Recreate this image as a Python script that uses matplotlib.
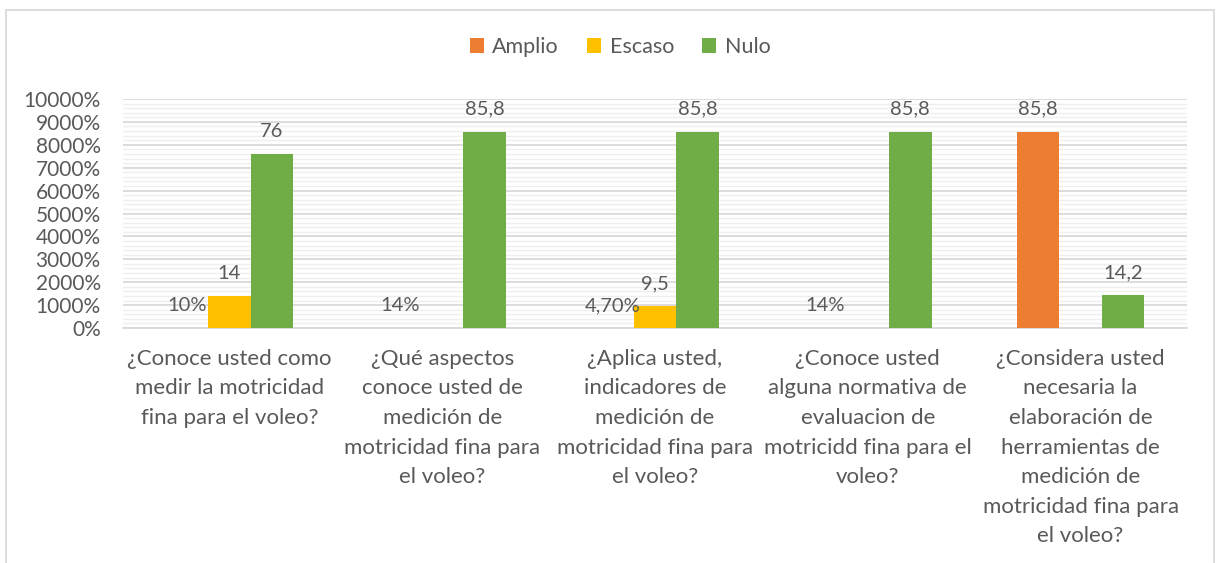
import numpy as np
import matplotlib
matplotlib.use("Agg")
import matplotlib.pyplot as plt
from matplotlib.patches import Patch, Rectangle
from matplotlib.ticker import MultipleLocator, FuncFormatter

plt.rcParams['font.family'] = ['Lato', 'DejaVu Sans']

categories = [
    "¿Conoce usted como\nmedir la motricidad\nfina para el voleo?",
    "¿Qué aspectos\nconoce usted de\nmedición de\nmotricidad fina para\nel voleo?",
    "¿Aplica usted,\nindicadores de\nmedición de\nmotricidad fina para\nel voleo?",
    "¿Conoce usted\nalguna normativa de\nevaluacion de\nmotricidd fina para el\nvoleo?",
    "¿Considera usted\nnecesaria la\nelaboración de\nherramientas de\nmedición de\nmotricidad fina para\nel voleo?",
]
series_names = ["Amplio", "Escaso", "Nulo"]
amplio = [0.10, 0.14, 0.047, 0.14, 85.8]
escaso = [14, np.nan, 9.5, np.nan, np.nan]
nulo = [76, 85.8, 85.8, 85.8, 14.2]
amplio_labels = ["10%", "14%", "4,70%", "14%", "85,8"]
escaso_labels = ["14", "", "9,5", "", ""]
nulo_labels = ["76", "85,8", "85,8", "85,8", "14,2"]

colors = ["#ED7D31", "#FFC000", "#70AD47"]
text_color = "#595959"

fig = plt.figure(figsize=(12.16, 5.63), dpi=100)
W, H = 1216, 563
ax = fig.add_axes([123 / W, 1 - 328 / H, (1187 - 123) / W, (328 - 99) / H])

x = np.arange(len(categories))
bw = 0.2
all_vals = [amplio, escaso, nulo]
all_labels = [amplio_labels, escaso_labels, nulo_labels]
for i, (vals, labs, c) in enumerate(zip(all_vals, all_labels, colors)):
    pos = x + (i - 1) * bw
    v = np.array(vals, dtype=float)
    ax.bar(pos, np.nan_to_num(v), width=bw, color=c, zorder=3)
    for p, val, lab in zip(pos, v, labs):
        if lab and not np.isnan(val):
            ax.annotate(lab, (p, val), xytext=(0, 12), textcoords="offset points",
                        ha="center", va="baseline", fontsize=14.5, color=text_color, zorder=4)

ax.set_xlim(-0.5, len(categories) - 0.5)
ax.set_ylim(0, 100)
ax.yaxis.set_major_locator(MultipleLocator(10))
ax.yaxis.set_minor_locator(MultipleLocator(2))
ax.yaxis.set_major_formatter(FuncFormatter(lambda v, _: f"{int(round(v * 100))}%"))
ax.grid(axis="y", which="major", color="#D9D9D9", linewidth=1.3, zorder=0)
ax.grid(axis="y", which="minor", color="#EFEFEF", linewidth=1.0, zorder=0)
ax.set_axisbelow(True)
for s in ["top", "right", "left"]:
    ax.spines[s].set_visible(False)
ax.spines["bottom"].set_color("#D9D9D9")
ax.spines["bottom"].set_linewidth(1.3)
ax.set_xticks(x)
ax.set_xticklabels(categories, fontsize=16, color=text_color, linespacing=1.6, va="top")
ax.tick_params(axis="x", length=0, pad=15)
ax.tick_params(axis="y", which="both", length=0, pad=16, labelsize=15, labelcolor=text_color)

handles = [Patch(facecolor=c, edgecolor="none") for c in colors]
fig.legend(handles, series_names, loc="center", bbox_to_anchor=(620 / W, 1 - 47 / H),
           ncol=3, frameon=False, fontsize=15.5, labelcolor=text_color,
           handlelength=0.65, handleheight=0.65, handletextpad=0.4, columnspacing=1.3)

fig.patches.append(Rectangle((6 / W, -0.1), (1214 - 6) / W, 1.1 - 9.5 / H,
                             transform=fig.transFigure, fill=False,
                             edgecolor="#D9D9D9", linewidth=1.3))

fig.savefig("out.png", dpi=100, facecolor="white")
